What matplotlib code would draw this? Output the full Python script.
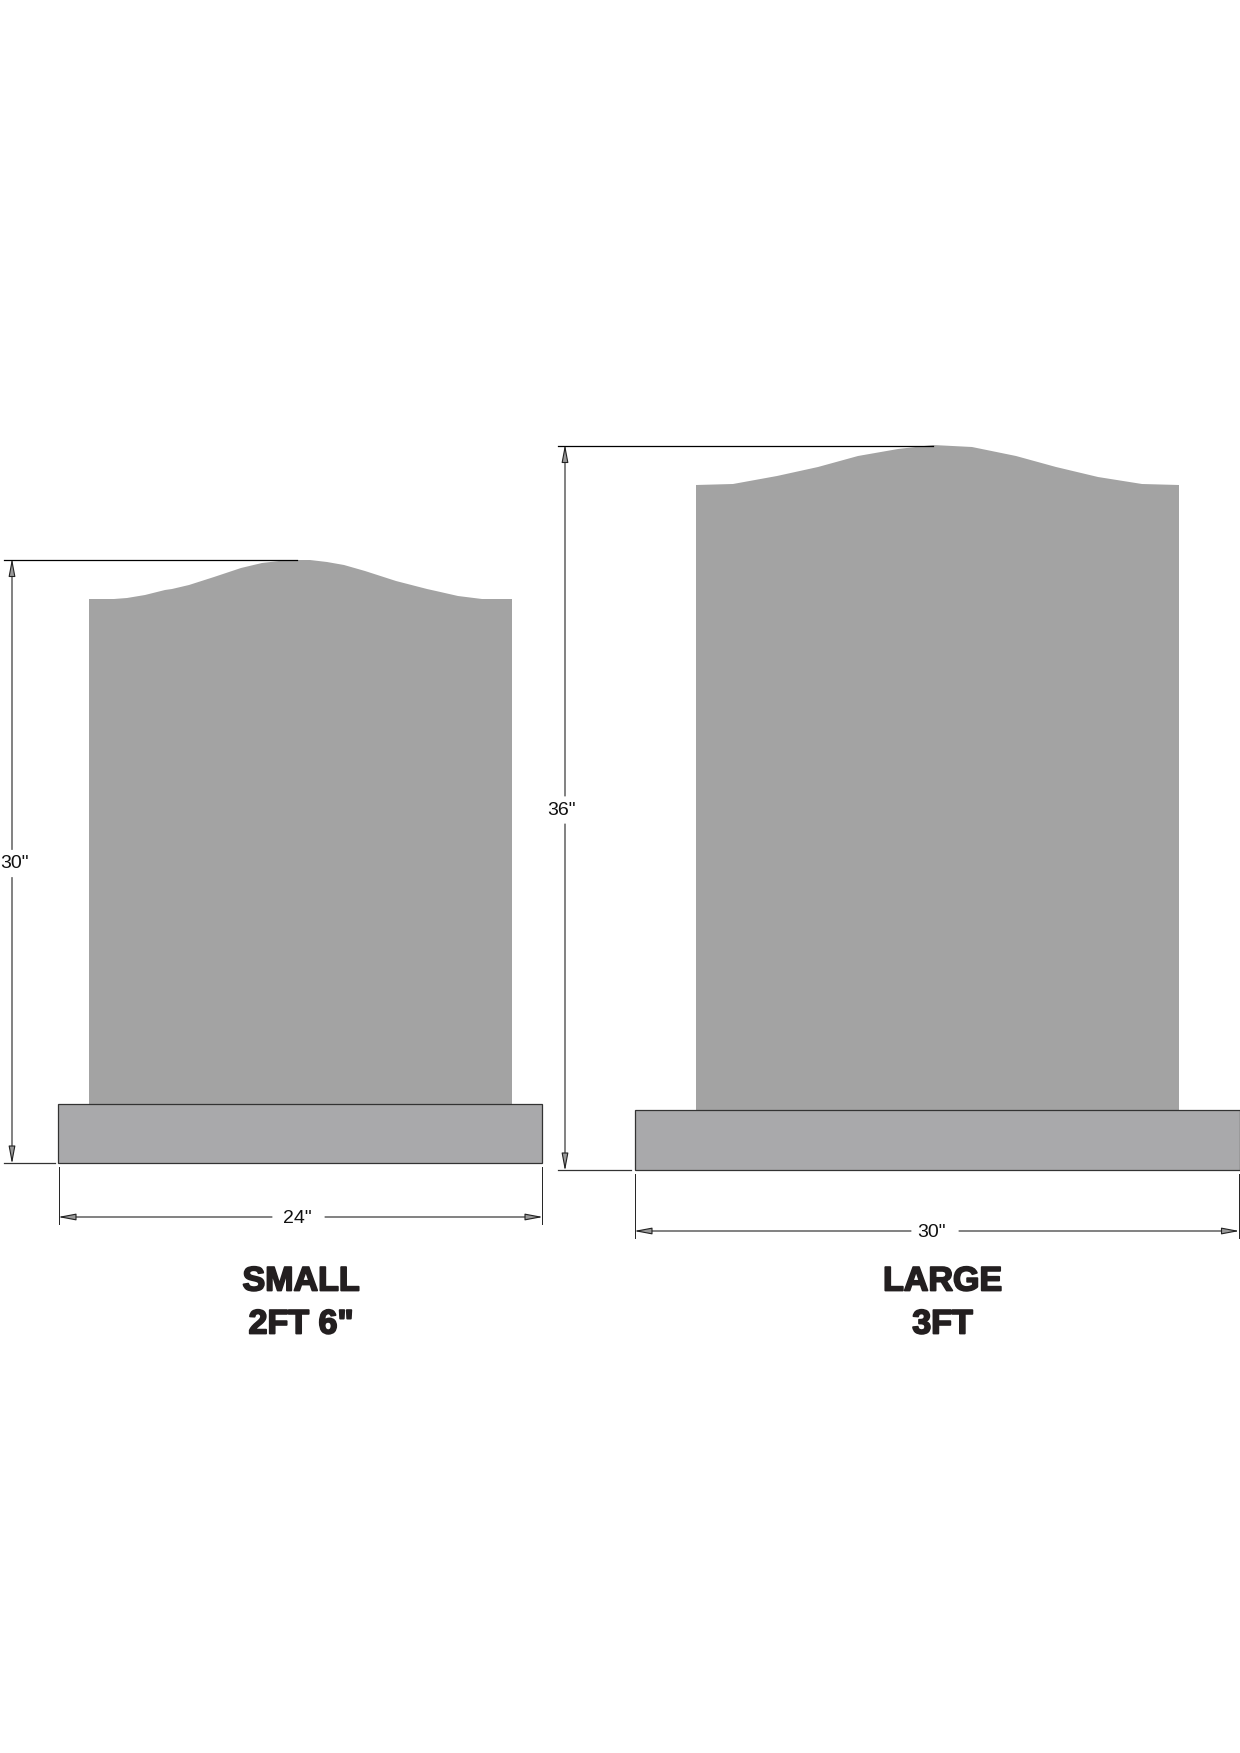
import matplotlib
matplotlib.use('Agg')
import matplotlib.pyplot as plt
import matplotlib.patheffects as pe

# outline of each headstone, in pixels of the page
small_x = [89, 114, 127, 145, 165, 172, 189, 214, 241, 262, 279, 296, 310, 327, 344, 365, 396, 427, 436, 458, 482, 512, 512, 89]
small_y = [599, 599, 598, 595, 590, 589, 585, 577, 568, 563, 561, 560, 560, 562, 565, 571, 581, 589, 591, 596, 599, 599, 1104, 1104]
large_x = [696, 733, 777, 818, 858, 898, 933, 972, 1016, 1056, 1098, 1142, 1179, 1179, 696]
large_y = [485, 484, 476, 467, 456, 449, 445, 447, 456, 467, 477, 484, 485, 1110, 1110]

small_base = [58, 542, 1104, 1163]
large_base = [635, 1239.5, 1110, 1170]

small_labels = ['24"', '30"', 'SMALL', '2FT 6"']
large_labels = ['30"', '36"', 'LARGE', '3FT']

STONE = '#a3a3a3'
BASE = '#a9a9ab'
INK = '#231f20'


def draw_base(ax, box):
    x0, x1, y0, y1 = box
    ax.fill([x0, x1, x1, x0], [y0, y0, y1, y1], facecolor=BASE, edgecolor='#333333', linewidth=0.9)


def arrow(ax, x0, y0, x1, y1):
    ax.annotate('', xy=(x1, y1), xytext=(x0, y0),
                arrowprops=dict(arrowstyle='-|>,head_length=0.9,head_width=0.17', shrinkA=0, shrinkB=0,
                                lw=0.8, color='#222222', fc='#999999', mutation_scale=12))


def draw_dims(ax, labels, vx, top, bottom, ext_x, top_end, vlabel, hy, tick_top, tick_bot, hx0, hx1, gap, text_x):
    # extension lines
    ax.plot([ext_x[0], top_end], [top, top], color='black', lw=0.9)
    ax.plot(ext_x, [bottom, bottom], color='#333333', lw=0.9)
    ax.plot([hx0, hx0], [tick_top, tick_bot], color='#222222', lw=0.7)
    ax.plot([hx1, hx1], [tick_top, tick_bot], color='#222222', lw=0.7)

    # vertical dimension, split around its label
    arrow(ax, vx, vlabel[1] - 14, vx, top - 1)
    arrow(ax, vx, vlabel[1] + 14, vx, bottom + 1)
    ax.text(vlabel[0], vlabel[1], labels[1], fontsize=14, family='Liberation Sans',
            color='#111111', ha='center', va='center')

    # horizontal dimension, split around its label
    arrow(ax, gap[0], hy, hx0 - 1, hy)
    arrow(ax, gap[1], hy, hx1 + 1, hy)
    ax.text(text_x, hy + 1.5, labels[0], fontsize=14, family='Liberation Sans',
            color='#111111', ha='center', va='center')


def title(ax, x, y, s):
    t = ax.text(x, y, s, fontsize=24.5, family='Liberation Sans', fontweight='bold',
                color=INK, ha='center', va='center')
    t.set_path_effects([pe.withStroke(linewidth=1.3, foreground=INK)])


fig = plt.figure(figsize=(12.4, 17.53), dpi=100)
ax = fig.add_axes([0, 0, 1, 1])
ax.set_xlim(0, 1240)
ax.set_ylim(1753, 0)
ax.axis('off')

# small stone
ax.fill(small_x, small_y, color=STONE, lw=0)
draw_base(ax, small_base)
draw_dims(ax, small_labels, 12, 559.5, 1163, [4, 55], 297, (14, 863.5),
          1217, 1167, 1224, 59, 542, (272, 325), 297)
title(ax, 301, 1282, small_labels[2])
title(ax, 301, 1325, small_labels[3])

# large stone
ax.fill(large_x, large_y, color=STONE, lw=0)
draw_base(ax, large_base)
draw_dims(ax, large_labels, 565, 445.5, 1170, [558, 631], 933, (561, 810),
          1231, 1174, 1238, 635, 1238.5, (911, 959), 931)
title(ax, 942.5, 1282, large_labels[2])
title(ax, 942.5, 1325, large_labels[3])

fig.savefig('out.png', dpi=100, facecolor='white')
